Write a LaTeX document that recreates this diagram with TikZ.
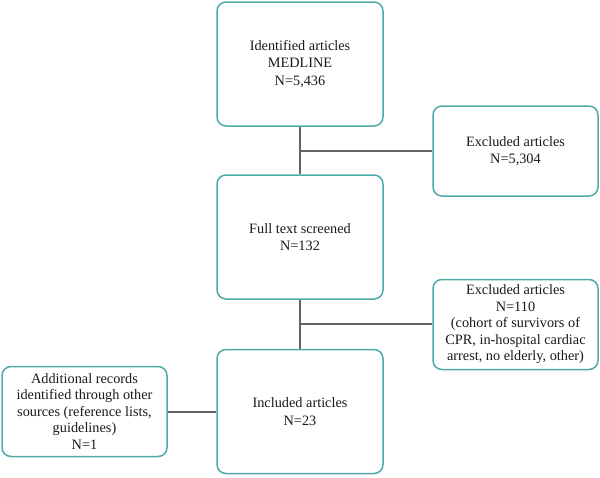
\documentclass[tikz,border=0pt]{standalone}
\usepackage{fontspec}
\setmainfont{Liberation Serif}
\usetikzlibrary{calc}
\definecolor{boxteal}{RGB}{78,170,168}
\definecolor{linkgray}{RGB}{100,100,100}
\definecolor{txt}{RGB}{25,25,25}
\begin{document}
\begin{tikzpicture}[x=1pt,y=-1pt,
  mainbox/.style={draw=boxteal,line width=1.5pt,rounded corners=9pt,minimum width=166pt,inner sep=0pt,align=center,text=txt,font=\fontsize{14.3}{17.5}\selectfont},
  sidebox/.style={draw=boxteal,line width=1.5pt,rounded corners=9pt,minimum width=165pt,minimum height=90pt,inner sep=0pt,align=center,text=txt,font=\fontsize{14.3}{16.5}\selectfont},
  link/.style={draw=linkgray,line width=2pt}]
\useasboundingbox (0,0) rectangle (600,477);
\node[mainbox,minimum height=124pt] (id) at (300,64) {Identified articles\\MEDLINE\\N=5,436};
\node[mainbox,minimum height=124pt] (full) at (300,237) {Full text screened\\N=132};
\node[mainbox,minimum height=124pt] (inc) at (300,411.5) {Included articles\\N=23};
\node[sidebox] (ex1) at (515.5,151) {Excluded articles\\N=5,304};
\node[sidebox] (ex2) at (515.5,324.5) {Excluded articles\\N=110\\(cohort of survivors of\\CPR, in-hospital cardiac\\arrest, no elderly, other)};
\node[sidebox] (add) at (84.5,411.5) {Additional records\\identified through other\\sources (reference lists,\\guidelines)\\N=1};
\coordinate (j1) at ($(id.south)!0.5!(full.north)$);
\coordinate (j2) at ($(full.south)!0.5!(inc.north)$);
\draw[link] (id.south) -- (full.north);
\draw[link] (full.south) -- (inc.north);
\draw[link] (j1) -- (j1 -| ex1.west);
\draw[link] (j2) -- (j2 -| ex2.west);
\draw[link] (add.east) -- (add.east -| inc.west);
\end{tikzpicture}
\end{document}
